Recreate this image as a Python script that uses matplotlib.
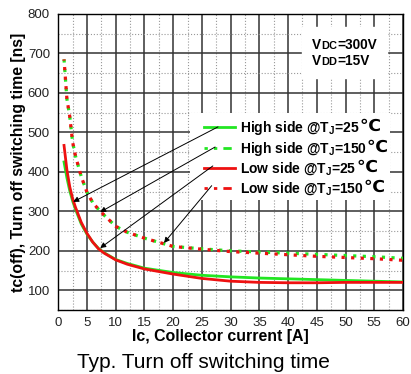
import matplotlib
matplotlib.use("Agg")
import matplotlib.pyplot as plt
from matplotlib.lines import Line2D
from matplotlib.patches import Rectangle
from matplotlib.offsetbox import TextArea, HPacker, VPacker, AnchoredOffsetbox
import numpy as np

plt.rcParams['font.family'] = ['Liberation Sans', 'DejaVu Sans']
plt.rcParams['mathtext.fontset'] = 'custom'
plt.rcParams['mathtext.rm'] = 'Liberation Sans'
plt.rcParams['mathtext.bf'] = 'Liberation Sans:bold'

ic = [1, 1.5, 2, 2.5, 3, 4, 5, 6, 7, 8, 10, 12, 15, 20, 25, 30, 35, 40, 45, 50, 55, 60]
hs25 = [425, 385, 352, 326, 305, 268, 242, 222, 206, 195, 178, 168, 156, 145, 138, 134, 131, 129, 127, 125, 123, 121]
ls25 = [467, 405, 362, 332, 310, 272, 244, 222, 205, 194, 177, 166, 154, 141, 130, 123, 120, 119, 119, 120, 120, 120]
hs150 = [685, 585, 540, 475, 440, 388, 348, 322, 305, 290, 262, 247, 232, 211, 205, 200, 197, 194, 191, 188, 185, 181]
ls150 = [685, 585, 540, 475, 440, 388, 348, 322, 305, 290, 262, 247, 232, 211, 204, 198, 194, 190, 186, 183, 180, 176]

labels = ["High side @T$_\\mathbf{J}$=25", "High side @T$_\\mathbf{J}$=150",
          "Low side @T$_\\mathbf{J}$=25", "Low side @T$_\\mathbf{J}$=150"]
DEG = "℃"

GREEN = '#22e622'
RED = '#ee1111'

fig = plt.figure(figsize=(4.11, 3.74), dpi=100)
ax = fig.add_axes([0.1418, 0.1711, 0.8387, 0.7915])

ax.set_xlim(0, 60)
ax.set_ylim(50, 800)
ax.set_xticks(np.arange(0, 61, 5))
ax.set_yticks(np.arange(100, 801, 100))
ax.set_xticks(np.arange(2.5, 60, 5), minor=True)
ax.set_yticks(np.arange(50, 800, 50), minor=True)
ax.tick_params(which='both', length=0, labelsize=9.5, colors='#222222')
ax.tick_params(axis='x', pad=5)
ax.tick_params(axis='y', pad=6)
ax.grid(which='major', color='#333333', linewidth=1.1, linestyle='-')
ax.grid(which='minor', color='#999999', linewidth=0.8, linestyle=':')
ax.set_axisbelow(True)
for s in ax.spines.values():
    s.set_linewidth(1.0)
    s.set_color('black')

ax.plot(ic, hs25, color=GREEN, linewidth=2.0, zorder=3)
ax.plot(ic, ls25, color=RED, linewidth=2.0, zorder=4)
ax.plot(ic, hs150, color=GREEN, linewidth=2.3, linestyle=(0, (1.0, 2.0)), zorder=3)
ax.plot(ic, ls150, color=RED, linewidth=2.3, linestyle=(0.6, (1.0, 2.0)), zorder=4)

# white background box for the legend
ax.add_patch(Rectangle((0.382, 0.372), 0.579, 0.294, transform=ax.transAxes,
                       facecolor='white', edgecolor='none', zorder=4.5))

handles = [Line2D([], [], color=GREEN, lw=2.0),
           Line2D([], [], color=GREEN, lw=2.0, linestyle=(0, (1.2, 2.2, 1.2, 2.2, 3, 2.2))),
           Line2D([], [], color=RED, lw=2.0),
           Line2D([], [], color=RED, lw=2.0, linestyle=(0, (1.2, 2.2, 1.2, 2.2, 3, 2.2)))]
leg = ax.legend(handles, labels, loc='upper left', bbox_to_anchor=(0.405, 0.668),
                frameon=False, prop={'weight': 'bold', 'size': 10},
                handlelength=2.25, handletextpad=0.3, labelspacing=0.22,
                borderpad=0.45, borderaxespad=0)
leg.set_zorder(5)
fig.canvas.draw()
# degree-Celsius signs after each legend label
for t in leg.get_texts():
    t_box = t.get_window_extent()
    xd, yd = ax.transAxes.inverted().transform((t_box.x1, (t_box.y0 + t_box.y1) / 2))
    ax.text(xd + 0.001, yd + 0.006, DEG, transform=ax.transAxes, ha='left', va='center',
            fontsize=12.5, fontweight='bold', family='DejaVu Sans', zorder=7)

def vline(sub, rest):
    return HPacker(children=[TextArea("V", textprops=dict(size=9.8, weight='bold')),
                             TextArea(sub, textprops=dict(size=7.9, weight='bold')),
                             TextArea(rest, textprops=dict(size=9.8, weight='bold'))],
                   align='baseline', pad=0, sep=0)

box = VPacker(children=[vline("DC", "=300V"), vline("DD", "=15V")], align='left', pad=0, sep=1.5)
anch = AnchoredOffsetbox(loc='upper right', child=box, pad=0.75, borderpad=0,
                         bbox_to_anchor=(0.955, 0.955), bbox_transform=ax.transAxes, frameon=True)
anch.patch.set_facecolor('white')
anch.patch.set_edgecolor('white')
anch.set_zorder(5)
ax.add_artist(anch)

arrows = [((27.8, 514), (2.6, 324)),
          ((27.3, 463), (7.3, 298)),
          ((26.9, 415), (7.3, 207)),
          ((26.7, 365), (18.4, 220))]
for start, end in arrows:
    ax.annotate("", xy=end, xytext=start,
                arrowprops=dict(arrowstyle='-|>', color='black', lw=0.7,
                                mutation_scale=8, shrinkA=0, shrinkB=0), zorder=6)

ax.set_xlabel("Ic, Collector current [A]", fontsize=11.4, fontweight='bold')
ax.xaxis.set_label_coords(0.47, -0.063)
ax.set_ylabel("tc(off), Turn off switching time [ns]", fontsize=11.3, fontweight='bold', labelpad=1)
fig.text(0.495, 0.03, "Typ. Turn off switching time", ha='center', va='center', fontsize=15)

fig.savefig("out.png", dpi=100)
